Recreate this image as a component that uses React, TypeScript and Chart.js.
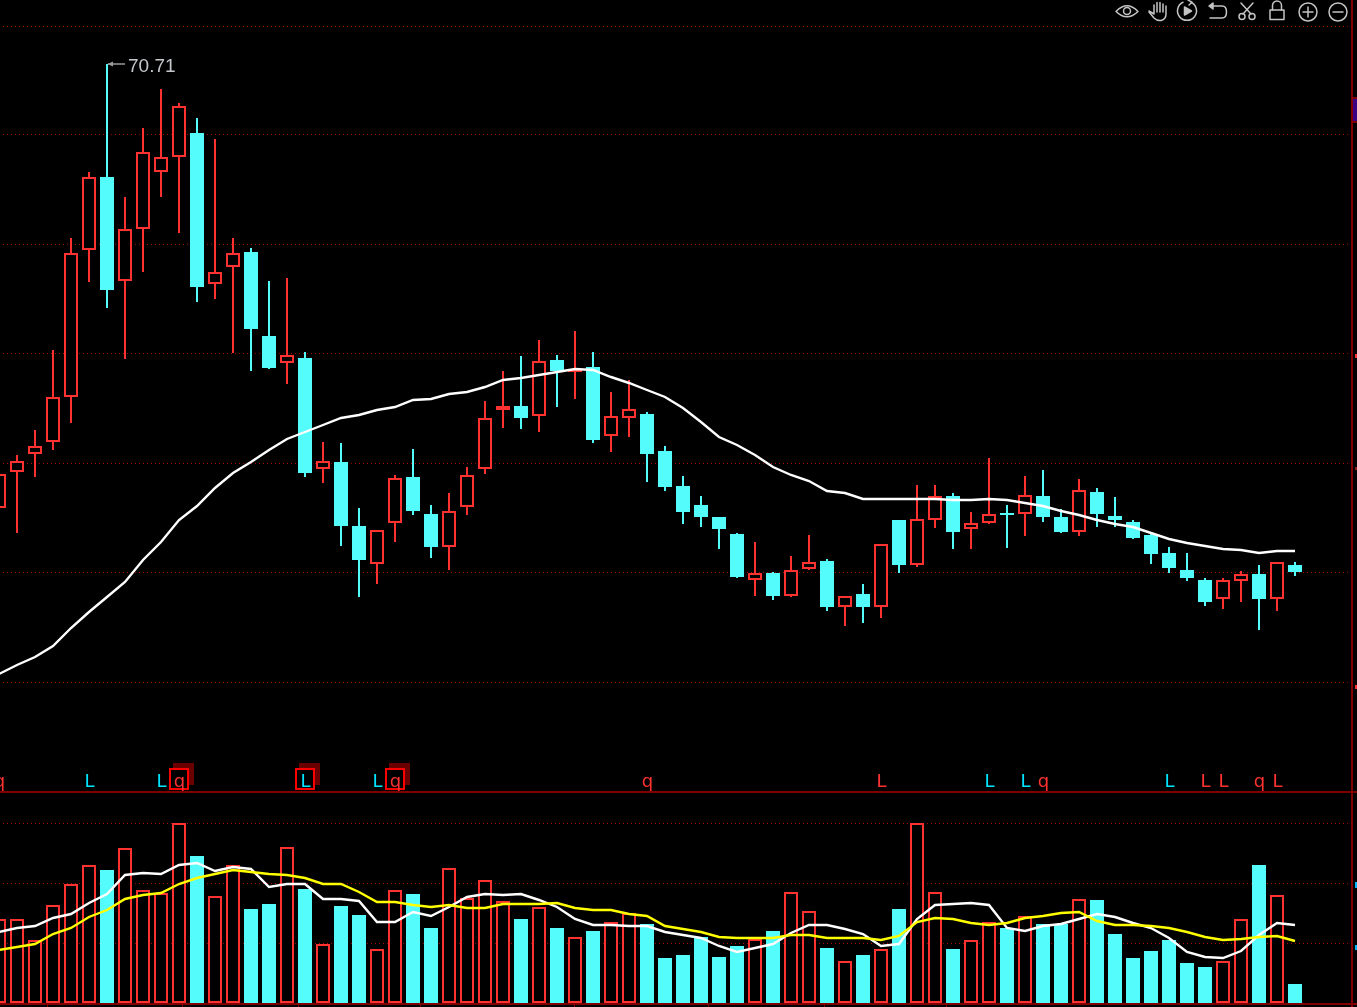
import React, { useEffect, useRef } from "react";
import { Chart, registerables } from "chart.js";

Chart.register(...registerables);

const opens = [26.31,29.91,31.71,32.91,37.41,52.11,59.41,49.01,54.21,59.91,61.41,63.81,48.71,50.41,51.91,43.51,40.81,41.31,30.21,30.91,24.51,20.71,24.81,29.41,25.71,22.41,26.41,30.21,36.11,36.51,35.51,41.11,39.91,40.41,33.51,35.31,35.71,32.01,28.51,26.61,25.41,23.71,19.11,19.81,17.51,20.21,21.01,16.41,17.71,16.41,25.11,20.61,25.11,27.51,24.21,24.81,25.81,25.71,27.51,25.41,23.91,27.91,25.51,24.91,23.61,21.81,20.11,19.11,17.21,19.01,19.71,17.21,20.61];
const closes = [29.71,31.01,32.51,37.41,51.81,59.41,48.11,54.21,61.91,61.41,66.51,48.41,49.91,51.81,44.21,40.31,41.61,29.81,31.01,24.51,21.11,24.11,29.31,26.01,22.41,26.01,29.61,35.31,36.51,35.31,41.01,40.01,40.21,33.11,35.51,36.21,31.71,28.41,25.91,25.41,24.21,19.41,19.81,17.51,20.11,20.91,16.41,17.51,16.41,22.71,20.61,25.21,27.51,23.91,24.81,25.71,25.61,27.61,25.41,23.91,28.11,25.71,25.11,23.31,21.71,20.31,19.31,16.91,19.11,19.71,17.21,20.91,19.91];
const highs = [30.11,31.61,34.11,42.11,53.31,59.91,70.71,57.41,64.31,68.21,66.81,65.31,63.21,53.31,52.31,49.01,49.31,41.91,32.91,32.81,26.31,24.11,29.61,32.21,26.61,27.81,30.41,37.01,40.01,41.51,43.11,41.61,44.01,41.91,37.91,39.11,35.91,32.51,29.51,27.51,25.41,23.81,22.91,19.91,21.51,23.61,21.21,17.51,18.71,22.71,25.11,28.61,28.61,27.81,25.91,31.31,26.61,29.51,30.11,26.21,29.21,28.31,27.41,25.11,23.81,22.41,21.81,19.31,19.31,20.01,20.61,20.91,20.91];
const lows = [25.91,23.81,29.41,32.11,34.81,48.91,46.31,41.21,49.91,57.41,53.81,46.91,47.21,41.81,40.01,40.21,38.71,29.41,28.81,22.51,17.41,18.71,22.91,25.61,21.31,20.11,25.61,29.71,34.31,34.21,33.91,36.41,37.21,32.81,31.91,33.41,28.91,28.01,24.71,24.41,22.21,19.31,17.51,17.11,17.41,20.11,16.01,14.51,14.81,15.31,19.81,20.41,24.31,22.21,22.21,24.71,22.31,23.51,24.91,23.81,23.51,24.41,24.41,23.21,20.71,19.81,19.01,16.51,16.21,16.91,14.11,16.01,19.51];
const priceMA = [9.71,10.61,11.41,12.51,14.31,15.91,17.41,18.91,21.11,22.91,25.11,26.51,28.31,29.81,30.91,32.11,33.21,33.91,34.61,35.31,35.61,36.11,36.41,37.11,37.21,37.71,37.91,38.41,39.11,39.31,39.61,39.91,40.21,40.11,39.41,38.81,38.11,37.41,36.31,34.91,33.41,32.61,31.61,30.41,29.61,29.01,28.01,27.81,27.21,27.21,27.21,27.21,27.21,27.11,27.11,27.21,27.11,26.81,26.51,26.01,25.61,25.11,24.71,24.41,23.81,23.21,22.81,22.51,22.21,22.11,21.81,22.01,22.01];
const volumes = [168,168,126,196,238,276,266,310,226,220,360,294,214,276,188,198,312,228,118,194,176,108,226,218,150,270,210,246,204,168,192,150,132,144,162,180,158,90,96,132,92,114,128,144,222,184,110,84,96,108,188,360,222,108,126,162,150,174,158,158,208,206,138,90,104,126,80,72,84,168,276,216,38];
const volMAFast = [142,150,154,170,178,200,218,256,260,258,276,280,264,272,268,232,238,238,208,208,204,162,162,182,174,192,212,218,216,218,206,192,168,156,156,154,154,142,136,130,114,102,110,118,140,156,156,148,138,114,118,168,196,198,200,196,150,144,154,158,168,178,172,160,150,130,102,92,90,104,136,160,156];
const volMASlow = [106,112,118,138,150,172,186,208,216,220,238,250,258,266,262,258,256,250,238,238,222,202,202,196,192,196,190,190,198,198,198,200,190,186,186,178,174,154,148,142,132,130,130,130,136,136,130,130,130,126,134,162,170,168,160,156,160,170,174,180,182,164,156,156,154,150,142,132,126,128,132,134,124];

const priceGrid = [74.51, 63.71, 52.71, 41.81, 30.81, 19.91, 8.91];
const volumeGrid = [360, 240, 120];
const periodBreaks = [2.67, 10.17, 16.61, 23.39, 31.94, 39.39, 45.83, 52.61];
const signalIndex = [0,5,9,10,17,21,22,36,49,55,57,58,65,67,68,70,71];
const signalText = ["q","L","L","q","L","L","q","q","L","L","L","q","L","L","L","q","L"];
const signalCool = [false,true,true,false,true,true,false,false,false,true,true,false,true,false,false,false,false];
const boxedSignals = [10,17,22];
const peakIndex = 6;
const peakLabel = "70.71";

const RED = "#ff3232";
const CYAN = "#54fcfc";
const FRAME = "#800000";
const GRID = "#a00000";
const WIDTH = 1357;
const PRICE_H = 793;
const VOL_H = 214;
const FRAME_X = 1351;
const LINE_W = 2.4;
const xMin = 1 / 18;
const xMax = xMin + WIDTH / 18;
const isUp = (i: number) => closes[i] >= opens[i];
const volUp = volumes.map((_, i) => isUp(i));

const xScale = { type: "linear", display: false, min: xMin, max: xMax, offset: false, grid: { offset: false } };

function yScale(min: number, max: number) {
  return { display: false, min, max };
}

const basePlugins = { legend: { display: false }, tooltip: { enabled: false } };

function framePlugin(gridValues: number[]) {
  return {
    id: "frame",
    beforeDatasetsDraw(chart: any) {
      const { ctx, height } = chart;
      const y = chart.scales.y;
      ctx.save();
      ctx.fillStyle = GRID;
      gridValues.forEach((v) => {
        const py = Math.round(y.getPixelForValue(v));
        for (let px = 3; px < FRAME_X; px += 4) ctx.fillRect(px, py, 1, 1);
      });
      ctx.fillStyle = FRAME;
      ctx.fillRect(FRAME_X, 0, 2, height);
      ctx.restore();
    },
  };
}

const pricePlugin = {
  id: "priceMarks",
  afterDatasetsDraw(chart: any) {
    const { ctx } = chart;
    const x = chart.scales.x;
    const y = chart.scales.y;
    ctx.save();
    ctx.fillStyle = FRAME;
    ctx.fillRect(0, 791, WIDTH, 2);

    // clipped remains of the off-screen axis at the right edge
    ctx.fillStyle = FRAME;
    ctx.fillRect(FRAME_X + 2, 97, 4, 26);
    ctx.fillStyle = "#3c0082";
    ctx.fillRect(FRAME_X + 2, 99, 4, 22);
    ctx.fillStyle = RED;
    ctx.fillRect(1355, 354, 2, 4);
    ctx.fillRect(1355, 685, 2, 4);
    ctx.fillStyle = "#8a1a1a";
    ctx.fillRect(1355, 467, 2, 3);

    boxedSignals.forEach((i) => {
      const cx = Math.round(x.getPixelForValue(i));
      ctx.fillStyle = "#6b0000";
      ctx.fillRect(cx - 6, 763, 21, 22);
      ctx.fillStyle = "#000000";
      ctx.fillRect(cx - 9, 769, 18, 20);
      ctx.strokeStyle = "#ff0000";
      ctx.lineWidth = 2;
      ctx.strokeRect(cx - 9, 769, 18, 20);
    });

    ctx.font = '18px "DejaVu Sans"';
    ctx.textAlign = "center";
    ctx.textBaseline = "alphabetic";
    signalIndex.forEach((i, k) => {
      ctx.fillStyle = signalCool[k] ? "#00e5ff" : RED;
      ctx.fillText(signalText[k], x.getPixelForValue(i) + 0.5, 787);
    });

    const px = x.getPixelForValue(peakIndex);
    const py = Math.round(y.getPixelForValue(highs[peakIndex]));
    ctx.strokeStyle = "#9a9a9a";
    ctx.fillStyle = "#9a9a9a";
    ctx.lineWidth = 1.5;
    ctx.beginPath();
    ctx.moveTo(px + 1, py);
    ctx.lineTo(px + 18, py);
    ctx.stroke();
    ctx.beginPath();
    ctx.moveTo(px + 0.5, py);
    ctx.lineTo(px + 6, py - 2.5);
    ctx.lineTo(px + 6, py + 2.5);
    ctx.closePath();
    ctx.fill();
    ctx.fillStyle = "#c4c8cc";
    ctx.font = '19px "Liberation Sans"';
    ctx.textAlign = "left";
    ctx.textBaseline = "middle";
    ctx.fillText(peakLabel, 128, py + 2.5);
    ctx.restore();
  },
};

const volumePlugin = {
  id: "volumeMarks",
  afterDatasetsDraw(chart: any) {
    const { ctx } = chart;
    const x = chart.scales.x;
    const base = Math.round(chart.scales.y.getPixelForValue(0));
    ctx.save();
    ctx.fillStyle = FRAME;
    ctx.fillRect(0, base, WIDTH, 2);
    periodBreaks.forEach((b) => {
      ctx.fillRect(Math.round(x.getPixelForValue(b)), base + 2, 1, 2);
    });
    ctx.fillStyle = "#00b8ff";
    ctx.fillRect(1355, 89, 2, 6);
    ctx.fillRect(1355, 152, 2, 5);
    ctx.restore();
  },
};

function Icons() {
  const s = { fill: "none", stroke: "#c4c4c4", strokeWidth: 1.5, strokeLinecap: "round", strokeLinejoin: "round" } as any;
  return (
    <svg width={WIDTH} height={26} style={{ position: "absolute", left: 0, top: 0 }}>
      <g {...s}>
        <path d="M1116 11.5 Q1127 0 1138 11.5 Q1127 22 1116 11.5Z" />
        <circle cx={1127} cy={11} r={3.5} />
        <path d="M1149 12 L1154 18 Q1157 21 1161 20.5 Q1166 19 1166 14 L1166 6 M1163 12 L1163 4 M1160 12 L1160 2.5 M1157 12 L1157 2.5 M1154 12 L1154 5 L1154 14 L1149 11" />
        <path d="M1191 2.2 A9.5 9.5 0 1 1 1183 2.2" />
        <path d="M1188 0 L1192 2.2 L1189 5" />
        <path d="M1184.5 7 L1191.5 11 L1184.5 15Z" fill="#c4c4c4" />
        <path d="M1211 6 L1222 6 Q1226.5 6 1226.5 12 Q1226.5 18 1222 18 L1210 18" />
        <path d="M1213 3 L1209 6 L1213 9Z" fill="#c4c4c4" />
        <path d="M1241 3 L1251 14 M1253 3 L1243 14" />
        <circle cx={1242} cy={16.5} r={3} />
        <circle cx={1252} cy={16.5} r={3} />
        <rect x={1270} y={10} width={14} height={9.5} />
        <path d="M1272.5 10 V5.5 A4.5 4.5 0 0 1 1281.5 5.5 V10" />
        <circle cx={1308} cy={12} r={9} />
        <path d="M1303 12 H1313 M1308 7 V17" />
        <circle cx={1338} cy={12} r={9} />
        <path d="M1333 12 H1343" />
      </g>
    </svg>
  );
}

export default function App() {
  const priceRef = useRef<HTMLCanvasElement>(null);
  const volRef = useRef<HTMLCanvasElement>(null);

  useEffect(() => {
    const price = new Chart(priceRef.current as any, {
      type: "bar",
      data: {
        datasets: [
          {
            type: "line",
            data: priceMA.map((y, x) => ({ x, y })),
            borderColor: "#ffffff",
            borderWidth: LINE_W,
            pointRadius: 0,
            order: 0,
          },
          {
            data: opens.map((o, x) => ({ x, y: [Math.min(o, closes[x]), Math.max(o, closes[x])] })),
            backgroundColor: opens.map((_, i) => (isUp(i) ? "#000000" : CYAN)),
            borderColor: opens.map((_, i) => (isUp(i) ? RED : CYAN)),
            borderWidth: 2,
            borderSkipped: false,
            inflateAmount: 0,
            grouped: false,
            barPercentage: 1,
            categoryPercentage: 1,
            maxBarThickness: 14,
            order: 1,
          },
          {
            data: highs.map((h, x) => ({ x, y: [lows[x], h] })),
            backgroundColor: opens.map((_, i) => (isUp(i) ? RED : CYAN)),
            borderWidth: 0,
            inflateAmount: 0,
            grouped: false,
            barPercentage: 1,
            categoryPercentage: 1,
            maxBarThickness: 2,
            order: 2,
          },
        ],
      } as any,
      options: {
        animation: false,
        responsive: false,
        devicePixelRatio: 1,
        layout: { padding: 0 },
        plugins: basePlugins,
        scales: { x: xScale, y: yScale(77.11 - PRICE_H / 10, 77.11) },
      } as any,
      plugins: [framePlugin(priceGrid), pricePlugin],
    });

    const vol = new Chart(volRef.current as any, {
      type: "bar",
      data: {
        datasets: [
          {
            type: "line",
            data: volMASlow.map((y, x) => ({ x, y })),
            borderColor: "#ffff00",
            borderWidth: LINE_W,
            pointRadius: 0,
            order: 0,
          },
          {
            type: "line",
            data: volMAFast.map((y, x) => ({ x, y })),
            borderColor: "#ffffff",
            borderWidth: LINE_W,
            pointRadius: 0,
            order: 1,
          },
          {
            data: volumes.map((y, x) => ({ x, y })),
            backgroundColor: volUp.map((u) => (u ? "#000000" : CYAN)),
            borderColor: volUp.map((u) => (u ? RED : CYAN)),
            borderWidth: 2,
            borderSkipped: false,
            inflateAmount: 0,
            grouped: false,
            barPercentage: 1,
            categoryPercentage: 1,
            maxBarThickness: 14,
            order: 2,
          },
        ],
      } as any,
      options: {
        animation: false,
        responsive: false,
        devicePixelRatio: 1,
        layout: { padding: 0 },
        plugins: basePlugins,
        scales: { x: xScale, y: yScale(-8, 420) },
      } as any,
      plugins: [framePlugin(volumeGrid), volumePlugin],
    });

    return () => {
      price.destroy();
      vol.destroy();
    };
  }, []);

  return (
    <div style={{ position: "fixed", left: 0, top: 0, width: WIDTH, height: 1007, background: "#000", overflow: "hidden" }}>
      <canvas ref={priceRef} width={WIDTH} height={PRICE_H} style={{ display: "block", position: "absolute", left: 0, top: 0 }} />
      <canvas ref={volRef} width={WIDTH} height={VOL_H} style={{ display: "block", position: "absolute", left: 0, top: PRICE_H }} />
      <Icons />
    </div>
  );
}
